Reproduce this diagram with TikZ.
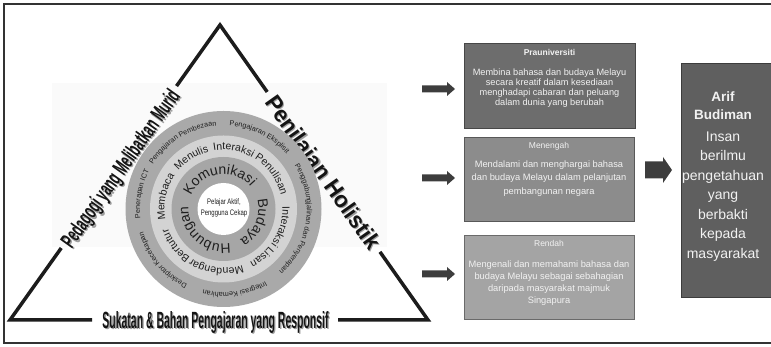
\documentclass[tikz,border=0pt]{standalone}
\usepackage{fontspec}
\setmainfont{Liberation Sans}
\usetikzlibrary{decorations.text,calc}
\definecolor{framec}{HTML}{333333}
\definecolor{trice}{HTML}{1C1C1C}
\definecolor{outerring}{HTML}{A9A9A9}
\definecolor{midring}{HTML}{D3D3D3}
\definecolor{innerring}{HTML}{A6A6A6}
\definecolor{ringtext}{HTML}{1E1E1E}
\definecolor{prafill}{HTML}{6D6D6D}
\definecolor{praline}{HTML}{474747}
\definecolor{menfill}{HTML}{8C8C8C}
\definecolor{menline}{HTML}{585858}
\definecolor{renfill}{HTML}{A4A4A4}
\definecolor{renline}{HTML}{6A6A6A}
\definecolor{ariffill}{HTML}{5F5F5F}
\definecolor{arifline}{HTML}{3C3C3C}
\definecolor{arrowc}{HTML}{3D3D3D}
\definecolor{boxtext}{HTML}{F2F2F2}
\definecolor{bgfaint}{HTML}{FAFAFA}
\newcommand\ringtext[4]{%
  \path[decorate,decoration={text along path,text align=center,text color=ringtext,
    text={|\fontsize{#3}{#3}\selectfont|#4}}]
    (C) ++({#2+80}:#1) arc[start angle={#2+80},end angle={#2-80},radius=#1];}
\newcommand\trilabel[6]{%
  \node[anchor=base,rotate=#3,inner sep=0pt,text=black!38] (#1s) at ($#2+(1.3,-1.3)$)
    {\resizebox{#4pt}{#5pt}{\bfseries #6}};
  \node[anchor=base,rotate=#3,inner sep=0pt,text=black!92] (#1) at #2
    {\resizebox{#4pt}{#5pt}{\bfseries #6}};}
\newcommand\smallarrow[1]{%
  \fill[arrowc] (422,#1+3.5) -- (447,#1+3.5) -- (447,#1+7) -- (455,#1)
    -- (447,#1-7) -- (447,#1-3.5) -- (422,#1-3.5) -- cycle;}
\begin{document}
\begin{tikzpicture}[x=1pt,y=1pt,
  tri/.style={line width=3.5pt,draw=trice,line join=miter},
  stagebox/.style={draw,line width=0.8pt,inner sep=0pt},
  titlef/.style={text=boxtext,font=\fontsize{8.5}{10}\selectfont,inner sep=0pt},
  bodyf/.style={text=boxtext,align=center,inner sep=0pt}]
\useasboundingbox (0,0) rectangle (771,347);
% frame
\draw[framec,line width=1.3pt] (772,343) -- (4,343) -- (4,4) -- (772,4);
% faint background
\fill[bgfaint] (52,100) rectangle (387,264);
% triangle
\coordinate (A) at (220,322);
\coordinate (BL) at (10,27);
\coordinate (BR) at (428,27);
\draw[tri] ($(BL)!0.793!(A)$) -- (A) -- ($(A)!0.227!(BR)$);
\draw[tri] ($(BL)!0.244!(A)$) -- (BL) -- (92,27);
\draw[tri] (338,27) -- (BR) -- ($(A)!0.769!(BR)$);
% triangle labels
\trilabel{ped}{(126.5,174.3)}{54.56}{188}{16}{Pedagogi yang Melibatkan Murid}
\trilabel{pen}{(316.6,170.2)}{-54.8}{182}{16.5}{Penilaian Holistik}
\trilabel{suk}{(215.5,18.5)}{0}{226}{17}{Sukatan \& Bahan Pengajaran yang Responsif}
% rings
\coordinate (C) at (223.5,138);
\fill[outerring] (C) circle[radius=98pt];
\fill[midring] (C) circle[radius=73.5pt];
\fill[innerring] (C) circle[radius=52pt];
\fill[white] (C) circle[radius=26pt];
% inner ring text
\ringtext{35pt}{98.5}{14}{Komunikasi}
\ringtext{35pt}{-23.5}{14}{Budaya}
\ringtext{35pt}{-131.5}{14}{Hubungan}
% middle ring text
\ringtext{59pt}{168}{10.5}{Membaca}
\ringtext{59pt}{122}{10.5}{Menulis}
\ringtext{59pt}{56.5}{10.5}{Interaksi Penulisan}
\ringtext{59pt}{-30.75}{10.5}{Interaksi Lisan}
\ringtext{59pt}{-97}{10.5}{Mendengar}
\ringtext{59pt}{-142.5}{10.5}{Bertutur}
% outer ring text
\ringtext{83.5pt}{121.3}{7.2}{Pengajaran Pembezaan}
\ringtext{83.5pt}{63.5}{7.2}{Pengajaran Eksplisit}
\ringtext{83.5pt}{-8.5}{7.2}{Penggabungjalinan dan Penyerapan}
\ringtext{83.5pt}{-82}{7.2}{Integrasi Kemahiran}
\ringtext{83.5pt}{-140}{7.2}{Deskriptor Kecekapan}
\ringtext{83.5pt}{169.5}{7.2}{Penerapan ICT}
% core
\node[align=center,text=ringtext,inner sep=0pt,font=\fontsize{8}{11}\selectfont] (core) at (224,139.5)
  {\scalebox{0.75}[1]{Pelajar Aktif,}\\\scalebox{0.75}[1]{Pengguna Cekap}};
% arrows
\smallarrow{258}
\smallarrow{169}
\smallarrow{73}
\fill[arrowc] (645,185.5) -- (663,185.5) -- (663,190) -- (672,177) -- (663,164) -- (663,168.5) -- (645,168.5) -- cycle;
% stage boxes
\node[stagebox,fill=prafill,draw=praline,minimum width=171pt,minimum height=85pt] (pra) at (549.5,261.5) {};
\node[titlef,font=\fontsize{8.5}{10}\selectfont\bfseries] (praT) at (549.5,294.3) {Prauniversiti};
\node[bodyf,font=\fontsize{9.2}{10}\selectfont] (praB) at (549.5,259.3)
  {Membina bahasa dan budaya Melayu\\secara kreatif dalam kesediaan\\menghadapi cabaran dan peluang\\dalam dunia yang berubah};
\node[stagebox,fill=menfill,draw=menline,minimum width=170pt,minimum height=84pt] (men) at (549,168) {};
\node[titlef] (menT) at (549,201) {Menengah};
\node[bodyf,font=\fontsize{9.3}{13.3}\selectfont] (menB) at (549,168.5)
  {Mendalami dan menghargai bahasa\\dan budaya Melayu dalam pelanjutan\\pembangunan negara};
\node[stagebox,fill=renfill,draw=renline,minimum width=170pt,minimum height=84pt] (ren) at (549,70) {};
\node[titlef] (renT) at (549,104) {Rendah};
\node[bodyf,font=\fontsize{9.3}{12}\selectfont] (renB) at (549,64)
  {Mengenali dan memahami bahasa dan\\budaya Melayu sebagai sebahagian\\daripada masyarakat majmuk\\Singapura};
% final box
\node[stagebox,fill=ariffill,draw=arifline,minimum width=92pt,minimum height=234pt] (arif) at (727,167) {};
\node[bodyf,font=\fontsize{13.5}{18}\selectfont\bfseries] (arifT) at (723,241) {Arif\\Budiman};
\node[bodyf,font=\fontsize{14}{19.5}\selectfont] (arifB) at (723,150.5)
  {Insan\\berilmu\\pengetahuan\\yang\\berbakti\\kepada\\masyarakat};
\end{tikzpicture}
\end{document}
